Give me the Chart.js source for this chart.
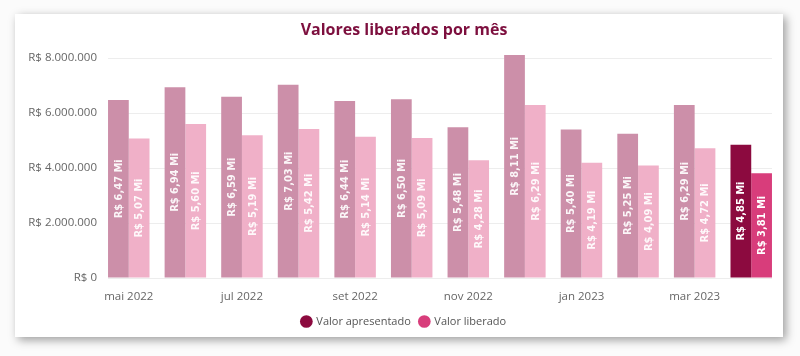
<!DOCTYPE html>
<html><head><meta charset="utf-8">
<script src="https://cdn.jsdelivr.net/npm/chart.js@4.4.0/dist/chart.umd.min.js"></script>
<style>
html,body{margin:0;padding:0;background:#fbfbfb;width:800px;height:356px;overflow:hidden;}
#card{position:absolute;left:15px;top:14px;width:768px;height:323px;background:#fff;box-shadow:3px 3px 9px rgba(0,0,0,0.38);}
#wrap{position:absolute;left:0;top:0;width:800px;height:356px;}
</style></head><body>
<div id="card"></div>
<div id="wrap"><canvas id="c" width="800" height="356"></canvas></div>
<script>
const months = ['mai 2022','jun 2022','jul 2022','ago 2022','set 2022','out 2022','nov 2022','dez 2022','jan 2023','fev 2023','mar 2023','abr 2023'];
const valorApresentado = [6470000, 6940000, 6590000, 7030000, 6440000, 6500000, 5480000, 8110000, 5400000, 5250000, 6290000, 4850000];
const valorLiberado    = [5070000, 5600000, 5190000, 5420000, 5140000, 5090000, 4280000, 6290000, 4190000, 4090000, 4720000, 3810000];
const yTickValues = [0, 2000000, 4000000, 6000000, 8000000];
const xTickIndexes = [0, 2, 4, 6, 8, 10];

const C_DARK = '#8c0a3f', C_DARK_FADED = '#cc8fa9';
const C_LIGHT = '#d83d7b', C_LIGHT_FADED = '#f0b0c8';
const last = months.length - 1;

function brl(v){ return 'R$ ' + String(v).replace(/\B(?=(\d{3})+(?!\d))/g, '.'); }
function mi(v){ return 'R$ ' + (v/1e6).toFixed(2).replace('.', ',') + ' Mi'; }

const valueLabels = {
  id: 'valueLabels',
  afterDatasetsDraw(chart) {
    const ctx = chart.ctx;
    chart.data.datasets.forEach((ds, di) => {
      const meta = chart.getDatasetMeta(di);
      meta.data.forEach((bar, i) => {
        const v = ds.data[i].y;
        ctx.save();
        ctx.translate(bar.x, (bar.y + bar.base) / 2);
        ctx.rotate(-Math.PI / 2);
        ctx.textAlign = 'center';
        ctx.textBaseline = 'middle';
        ctx.font = 'bold 11px "Liberation Sans Narrow", "DejaVu Sans Condensed", sans-serif';
        ctx.fillStyle = i === last ? '#ffffff' : 'rgba(255,255,255,0.92)';
        ctx.fillText(mi(v), 0, 0.5);
        ctx.restore();
      });
    });
  }
};

new Chart(document.getElementById('c'), {
  type: 'bar',
  data: {
    datasets: [
      { label: 'Valor apresentado',
        data: valorApresentado.map((v, i) => ({x: i, y: v})),
        backgroundColor: valorApresentado.map((_, i) => i === last ? C_DARK : C_DARK_FADED),
        borderWidth: 0 },
      { label: 'Valor liberado',
        data: valorLiberado.map((v, i) => ({x: i, y: v})),
        backgroundColor: valorLiberado.map((_, i) => i === last ? C_LIGHT : C_LIGHT_FADED),
        borderWidth: 0 }
    ]
  },
  options: {
    responsive: false,
    animation: false,
    devicePixelRatio: 1,
    categoryPercentage: 0.733,
    barPercentage: 1.0,
    layout: { padding: { left: 36, right: 28, top: 14, bottom: 19 } },
    plugins: {
      title: {
        display: true,
        text: 'Valores liberados por mês',
        color: '#7d0f3e',
        font: { family: '"Open Sans", sans-serif', size: 16, weight: 'bold' },
        padding: { top: 7, bottom: 9.6 }
      },
      legend: {
        position: 'bottom',
        labels: {
          usePointStyle: true,
          pointStyle: 'circle',
          boxWidth: 9, boxHeight: 9,
          padding: 9,
          color: '#555555',
          font: { family: '"Open Sans", sans-serif', size: 11 },
          generateLabels(chart) {
            const items = Chart.defaults.plugins.legend.labels.generateLabels(chart);
            const cols = [C_DARK, C_LIGHT];
            items.forEach((it, i) => { it.fillStyle = cols[i]; it.strokeStyle = cols[i]; it.lineWidth = 0; });
            return items;
          }
        }
      },
      tooltip: { enabled: false }
    },
    scales: {
      x: {
        type: 'linear',
        offset: false,
        min: -0.367, max: 11.367,
        grid: { display: false },
        border: { display: false },
        afterBuildTicks(scale) { scale.ticks = xTickIndexes.map(v => ({ value: v })); },
        afterFit(scale) { scale.height = 29; },
        ticks: {
          autoSkip: false, maxRotation: 0, padding: 4,
          color: '#666666',
          font: { family: '"Open Sans", sans-serif', size: 11.5 },
          callback: (v) => months[v]
        }
      },
      y: {
        min: 0, max: 8300000,
        afterBuildTicks(scale) { scale.ticks = yTickValues.map(v => ({ value: v })); },
        afterFit(scale) {
          scale.width = 72;
          scale._computeLabelArea = () => undefined; // let tick labels extend past the axis box
        },
        grid: { color: '#ededed', drawTicks: false },
        border: { display: false },
        ticks: {
          padding: 11,
          color: '#666666',
          font: { family: '"Open Sans", sans-serif', size: 11.5 },
          callback: (v) => brl(v)
        }
      }
    }
  },
  plugins: [valueLabels]
});
</script>
</body></html>
